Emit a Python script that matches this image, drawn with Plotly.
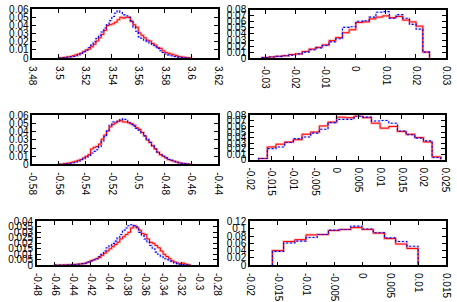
import numpy as np
import plotly.graph_objects as go

# ---------------- data ----------------
# Panel 1 (top-left): bins 3.500 .. 3.600, 50 bins
p1_bins = (3.500, 3.600)
p1_red = [0.0003, 0.0005, 0.001, 0.0015, 0.002, 0.003, 0.004, 0.005, 0.006, 0.008,
          0.010, 0.011, 0.014, 0.017, 0.021, 0.025, 0.029, 0.034, 0.040, 0.041,
          0.042, 0.044, 0.047, 0.050, 0.049, 0.050, 0.050, 0.045, 0.041, 0.038,
          0.031, 0.028, 0.025, 0.022, 0.021, 0.018, 0.016, 0.013, 0.012, 0.009,
          0.007, 0.006, 0.005, 0.004, 0.003, 0.002, 0.0015, 0.001, 0.0005, 0.0003]
p1_blue = [0.0002, 0.0004, 0.0006, 0.001, 0.0015, 0.002, 0.003, 0.004, 0.006, 0.008,
           0.010, 0.013, 0.016, 0.020, 0.024, 0.028, 0.032, 0.037, 0.041, 0.046,
           0.051, 0.055, 0.058, 0.056, 0.053, 0.052, 0.050, 0.046, 0.038, 0.033,
           0.026, 0.024, 0.022, 0.020, 0.018, 0.016, 0.014, 0.012, 0.009, 0.007,
           0.005, 0.004, 0.003, 0.002, 0.0015, 0.001, 0.0007, 0.0004, 0.0002, 0.0001]
p1_xtick = ["3.48", "3.5", "3.52", "3.54", "3.56", "3.58", "3.6", "3.62"]
p1_ytick = ["0", "0.01", "0.02", "0.03", "0.04", "0.05", "0.06"]

# Panel 2 (top-right): bins -0.031 .. 0.0245, 25 bins
p2_bins = (-0.031, 0.0245)
p2_red = [0.001, 0.002, 0.003, 0.004, 0.006, 0.007, 0.011, 0.015, 0.018, 0.022,
          0.029, 0.034, 0.042, 0.047, 0.059, 0.060, 0.065, 0.068, 0.070, 0.067,
          0.069, 0.063, 0.060, 0.053, 0.010]
p2_blue = [0.001, 0.002, 0.003, 0.004, 0.005, 0.007, 0.010, 0.014, 0.017, 0.021,
           0.027, 0.032, 0.051, 0.052, 0.061, 0.062, 0.068, 0.076, 0.077, 0.066,
           0.072, 0.066, 0.056, 0.048, 0.010]
p2_xtick = ["-0.03", "-0.02", "-0.01", "0", "0.01", "0.02", "0.03"]
p2_ytick = ["0", "0.01", "0.02", "0.03", "0.04", "0.05", "0.06", "0.07", "0.08"]

# Panel 3 (middle-left): bins -0.560 .. -0.460, 50 bins
p3_bins = (-0.560, -0.460)
p3_red = [0.0003, 0.0005, 0.001, 0.0015, 0.002, 0.003, 0.004, 0.005, 0.006, 0.008,
          0.010, 0.012, 0.019, 0.021, 0.022, 0.025, 0.031, 0.036, 0.041, 0.046,
          0.049, 0.051, 0.053, 0.054, 0.052, 0.052, 0.051, 0.050, 0.048, 0.045,
          0.043, 0.039, 0.035, 0.030, 0.027, 0.023, 0.019, 0.015, 0.012, 0.010,
          0.008, 0.006, 0.005, 0.004, 0.003, 0.002, 0.0015, 0.001, 0.0005, 0.0003]
p3_blue = [0.0001, 0.0002, 0.0005, 0.001, 0.0015, 0.002, 0.003, 0.004, 0.006, 0.007,
           0.009, 0.011, 0.014, 0.016, 0.018, 0.022, 0.028, 0.034, 0.041, 0.048,
           0.052, 0.052, 0.053, 0.055, 0.056, 0.055, 0.051, 0.049, 0.047, 0.044,
           0.042, 0.039, 0.035, 0.031, 0.027, 0.023, 0.019, 0.015, 0.012, 0.010,
           0.008, 0.006, 0.005, 0.004, 0.003, 0.002, 0.0015, 0.001, 0.0005, 0.0003]
p3_xtick = ["-0.58", "-0.56", "-0.54", "-0.52", "-0.5", "-0.48", "-0.46", "-0.44"]
p3_ytick = ["0", "0.01", "0.02", "0.03", "0.04", "0.05", "0.06"]

# Panel 4 (middle-right): bins -0.018 .. 0.024, 21 bins
p4_bins = (-0.018, 0.024)
p4_red = [0.002, 0.023, 0.028, 0.032, 0.036, 0.046, 0.050, 0.061, 0.068, 0.077,
          0.076, 0.079, 0.076, 0.066, 0.057, 0.060, 0.051, 0.046, 0.040, 0.032, 0.005]
p4_blue = [0.002, 0.020, 0.023, 0.031, 0.038, 0.041, 0.048, 0.055, 0.067, 0.073,
           0.073, 0.079, 0.077, 0.070, 0.071, 0.066, 0.052, 0.045, 0.039, 0.034, 0.004]
p4_xtick = ["-0.02", "-0.015", "-0.01", "-0.005", "0", "0.005", "0.01", "0.015", "0.02", "0.025"]
p4_ytick = ["0", "0.01", "0.02", "0.03", "0.04", "0.05", "0.06", "0.07", "0.08"]

# Panel 5 (bottom-left): bins -0.460 .. -0.310, 50 bins
p5_bins = (-0.460, -0.310)
p5_red = [0.0001, 0.0002, 0.0002, 0.0003, 0.0004, 0.0005, 0.0006, 0.0008, 0.001, 0.0012,
          0.0015, 0.002, 0.003, 0.004, 0.005, 0.006, 0.007, 0.009, 0.011, 0.013,
          0.015, 0.017, 0.019, 0.021, 0.024, 0.026, 0.028, 0.030, 0.034, 0.036,
          0.034, 0.032, 0.029, 0.028, 0.024, 0.021, 0.020, 0.018, 0.016, 0.013,
          0.010, 0.008, 0.006, 0.004, 0.003, 0.002, 0.0015, 0.002, 0.001, 0.0005]
p5_blue = [0.0001, 0.0001, 0.0002, 0.0002, 0.0003, 0.0004, 0.0005, 0.0007, 0.001, 0.0012,
           0.0015, 0.002, 0.003, 0.004, 0.005, 0.006, 0.008, 0.010, 0.013, 0.016,
           0.018, 0.020, 0.022, 0.025, 0.028, 0.032, 0.034, 0.036, 0.037, 0.036,
           0.035, 0.030, 0.027, 0.024, 0.021, 0.018, 0.015, 0.012, 0.010, 0.008,
           0.006, 0.005, 0.004, 0.003, 0.002, 0.0015, 0.001, 0.0007, 0.0004, 0.0002]
p5_xtick = ["-0.48", "-0.46", "-0.44", "-0.42", "-0.4", "-0.38", "-0.36", "-0.34", "-0.32", "-0.3", "-0.28"]
p5_ytick = ["0", "0.005", "0.01", "0.015", "0.02", "0.025", "0.03", "0.035", "0.04"]

# Panel 6 (bottom-right): bins -0.016 .. 0.010, 13 bins
p6_bins = (-0.016, 0.010)
p6_red = [0.040, 0.065, 0.070, 0.083, 0.084, 0.095, 0.098, 0.103, 0.098, 0.088, 0.073, 0.058, 0.046]
p6_blue = [0.038, 0.061, 0.066, 0.076, 0.084, 0.096, 0.098, 0.107, 0.099, 0.089, 0.075, 0.065, 0.052]
p6_xtick = ["-0.02", "-0.015", "-0.01", "-0.005", "0", "0.005", "0.01", "0.015"]
p6_ytick = ["0", "0.02", "0.04", "0.06", "0.08", "0.1", "0.12"]

# ---------------- layout (pixel boxes) ----------------
W, H = 457, 302
panels = [
    dict(bins=p1_bins, red=p1_red, blue=p1_blue, xt=p1_xtick, yt=p1_ytick,
         xr=[3.48, 3.62], yr=[0, 0.06], box=(28, 218, 3.3, 54.3)),
    dict(bins=p2_bins, red=p2_red, blue=p2_blue, xt=p2_xtick, yt=p2_ytick,
         xr=[-0.035, 0.03], yr=[0, 0.08], box=(251, 452, 4, 54.3)),
    dict(bins=p3_bins, red=p3_red, blue=p3_blue, xt=p3_xtick, yt=p3_ytick,
         xr=[-0.58, -0.44], yr=[0, 0.06], box=(28, 218, 114, 165)),
    dict(bins=p4_bins, red=p4_red, blue=p4_blue, xt=p4_xtick, yt=p4_ytick,
         xr=[-0.02, 0.025], yr=[0, 0.08], box=(251, 451, 114, 160)),
    dict(bins=p5_bins, red=p5_red, blue=p5_blue, xt=p5_xtick, yt=p5_ytick,
         xr=[-0.48, -0.28], yr=[0, 0.04], box=(32.7, 217.3, 224.3, 270)),
    dict(bins=p6_bins, red=p6_red, blue=p6_blue, xt=p6_xtick, yt=p6_ytick,
         xr=[-0.02, 0.015], yr=[0, 0.12], box=(251, 452, 224.3, 270)),
]

FONT = "Liberation Sans, Arial, sans-serif"
fig = go.Figure()
layout = dict(width=W, height=H, margin=dict(l=0, r=0, t=0, b=0),
              paper_bgcolor="white", plot_bgcolor="white", showlegend=False,
              font=dict(family=FONT, size=10, color="black"))


def step_xy(bins, vals):
    n = len(vals)
    edges = np.linspace(bins[0], bins[1], n + 1)
    xs = [edges[0]] + list(edges[:-1]) + [edges[-1]]
    ys = [0.0] + list(vals) + [0.0]
    return xs, ys


for i, p in enumerate(panels, start=1):
    xa = "x" if i == 1 else f"x{i}"
    ya = "y" if i == 1 else f"y{i}"
    xb, yb = step_xy(p["bins"], p["blue"])
    xr2, yr2 = step_xy(p["bins"], p["red"])
    fig.add_trace(go.Scatter(x=xr2, y=yr2, mode="lines", xaxis=xa, yaxis=ya,
                             line=dict(color="rgba(255,80,80,0.38)", width=2.6, shape="hv")))
    fig.add_trace(go.Scatter(x=xb, y=yb, mode="lines", xaxis=xa, yaxis=ya,
                             line=dict(color="rgba(80,80,255,0.18)", width=2, shape="hv")))
    fig.add_trace(go.Scatter(x=xr2, y=yr2, mode="lines", xaxis=xa, yaxis=ya,
                             line=dict(color="#ff0000", width=1, shape="hv")))
    fig.add_trace(go.Scatter(x=xb, y=yb, mode="lines", xaxis=xa, yaxis=ya,
                             line=dict(color="#0000ff", width=1.1, shape="hv", dash="2px,2px")))

    x0, x1, yt0, yt1 = p["box"]
    xvals = [float(s) for s in p["xt"]]
    yvals = [float(s) for s in p["yt"]]
    common = dict(showline=True, linecolor="black", linewidth=1.5, mirror="allticks",
                  ticks="inside", ticklen=4, tickwidth=1, tickcolor="black",
                  showgrid=False, zeroline=False, fixedrange=True,
                  tickfont=dict(family=FONT, size=10, color="black"))
    layout["xaxis" if i == 1 else f"xaxis{i}"] = dict(
        common, domain=[x0 / W, x1 / W], range=p["xr"], anchor=ya,
        tickmode="array", tickvals=xvals, ticktext=p["xt"], tickangle=90,
        ticklabelstandoff=4)
    layout["yaxis" if i == 1 else f"yaxis{i}"] = dict(
        common, domain=[1 - yt1 / H, 1 - yt0 / H], range=p["yr"], anchor=xa,
        tickmode="array", tickvals=yvals, ticktext=p["yt"])

fig.update_layout(**layout)
fig.write_html("out.html", config={"displayModeBar": False},
               post_script="document.body.style.margin='0';document.body.style.padding='0';")
